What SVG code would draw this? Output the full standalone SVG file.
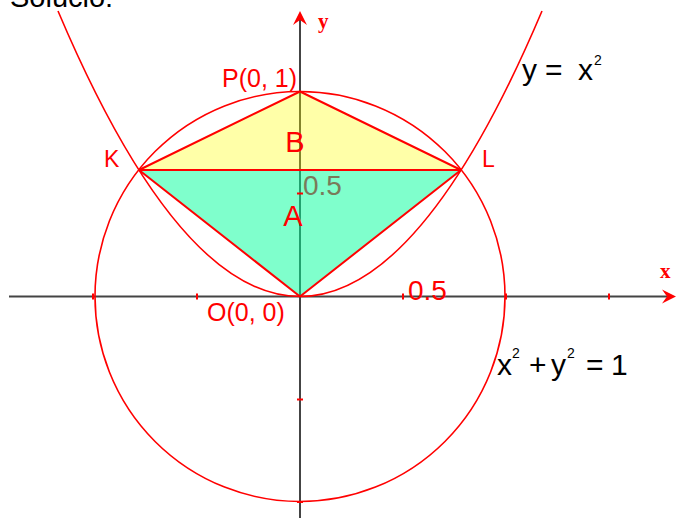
<svg xmlns="http://www.w3.org/2000/svg" width="676" height="518" viewBox="0 0 676 518">
<style>
.ax{stroke:#444;stroke-width:2;fill:none}
.tk{stroke:#f00;stroke-width:2}
.red{stroke:#f00;stroke-width:1.6;fill:none}
.edge{stroke:#f00;stroke-width:2;fill:none;stroke-linejoin:round}
.lbl{font-family:"Liberation Sans",Arial,sans-serif;fill:#f00}
.blk{font-family:"Liberation Sans",Arial,sans-serif;fill:#000}
.axl{font-family:"Liberation Serif","Times New Roman",serif;font-weight:bold;fill:#f00}
</style>
<rect width="676" height="518" fill="#fff"/>
<text class="blk" x="10" y="7" font-size="29">Solucio:</text>
<g id="axes">
<line class="ax" x1="9" y1="296.5" x2="672" y2="296.5"/>
<line class="ax" x1="300" y1="16" x2="300" y2="518"/>
<path d="M676,296.5 L662,289.5 L667,296.5 L662,303.5 Z" fill="#f00"/>
<path d="M300,11 L307,25 L300,20 L293,25 Z" fill="#f00"/>
<text class="axl" x="318" y="28" font-size="21">y</text>
<text class="axl" x="660" y="278" font-size="21">x</text>
</g>
<g id="regions">
<polygon id="B" points="300,91.5 139,170 461,170" fill="#ffff00" fill-opacity="0.34"/>
<polygon id="A" points="139,170 461,170 300,296.5" fill="#00ff99" fill-opacity="0.5"/>
</g>
<g id="ticks">
<line class="tk" x1="93" y1="293.5" x2="93" y2="299.5"/>
<line class="tk" x1="197" y1="293.5" x2="197" y2="299.5"/>
<line class="tk" x1="403" y1="293.5" x2="403" y2="299.5"/>
<line class="tk" x1="506" y1="293.5" x2="506" y2="299.5"/>
<line class="tk" x1="609" y1="293.5" x2="609" y2="299.5"/>
<line class="tk" x1="297" y1="193.5" x2="303" y2="193.5" stroke="#6a6a50"/>
<line class="tk" x1="297" y1="399.5" x2="303" y2="399.5"/>
<line class="tk" x1="297" y1="502" x2="303" y2="502"/>
</g>
<g id="curves">
<circle class="red" cx="300" cy="296.5" r="205"/>
<path class="red" d="M58,11 Q300,582 542,11"/>
</g>
<g id="connectors">
<polyline class="edge" points="139,170 300,91.5 461,170 139,170 300,296.5 461,170"/>
</g>
<g id="labels">
<text class="lbl" x="222" y="87" font-size="25">P(0, 1)</text>
<text class="lbl" x="104" y="167" font-size="23">K</text>
<text class="lbl" x="482" y="167" font-size="23">L</text>
<text class="lbl" x="295" y="152" font-size="29" text-anchor="middle">B</text>
<text class="lbl" x="293" y="226" font-size="29" text-anchor="middle">A</text>
<text class="lbl" x="207" y="321" font-size="25">O(0, 0)</text>
<text x="303" y="195" font-size="28" fill="#7a7a5a" font-family="Liberation Sans,Arial,sans-serif">0.5</text>
<text class="lbl" x="408" y="300" font-size="28">0.5</text>
<text class="blk" x="522" y="80" font-size="30">y</text>
<text class="blk" x="545" y="80" font-size="30">=</text>
<text class="blk" x="578" y="80" font-size="30">x</text>
<text class="blk" x="594" y="65" font-size="14">2</text>
<text class="blk" x="497" y="375" font-size="30">x</text>
<text class="blk" x="512" y="358" font-size="14">2</text>
<text class="blk" x="529" y="375" font-size="30">+</text>
<text class="blk" x="551" y="375" font-size="30">y</text>
<text class="blk" x="567" y="358" font-size="14">2</text>
<text class="blk" x="586" y="375" font-size="30">=</text>
<text class="blk" x="611" y="375" font-size="30">1</text>
</g>
</svg>
